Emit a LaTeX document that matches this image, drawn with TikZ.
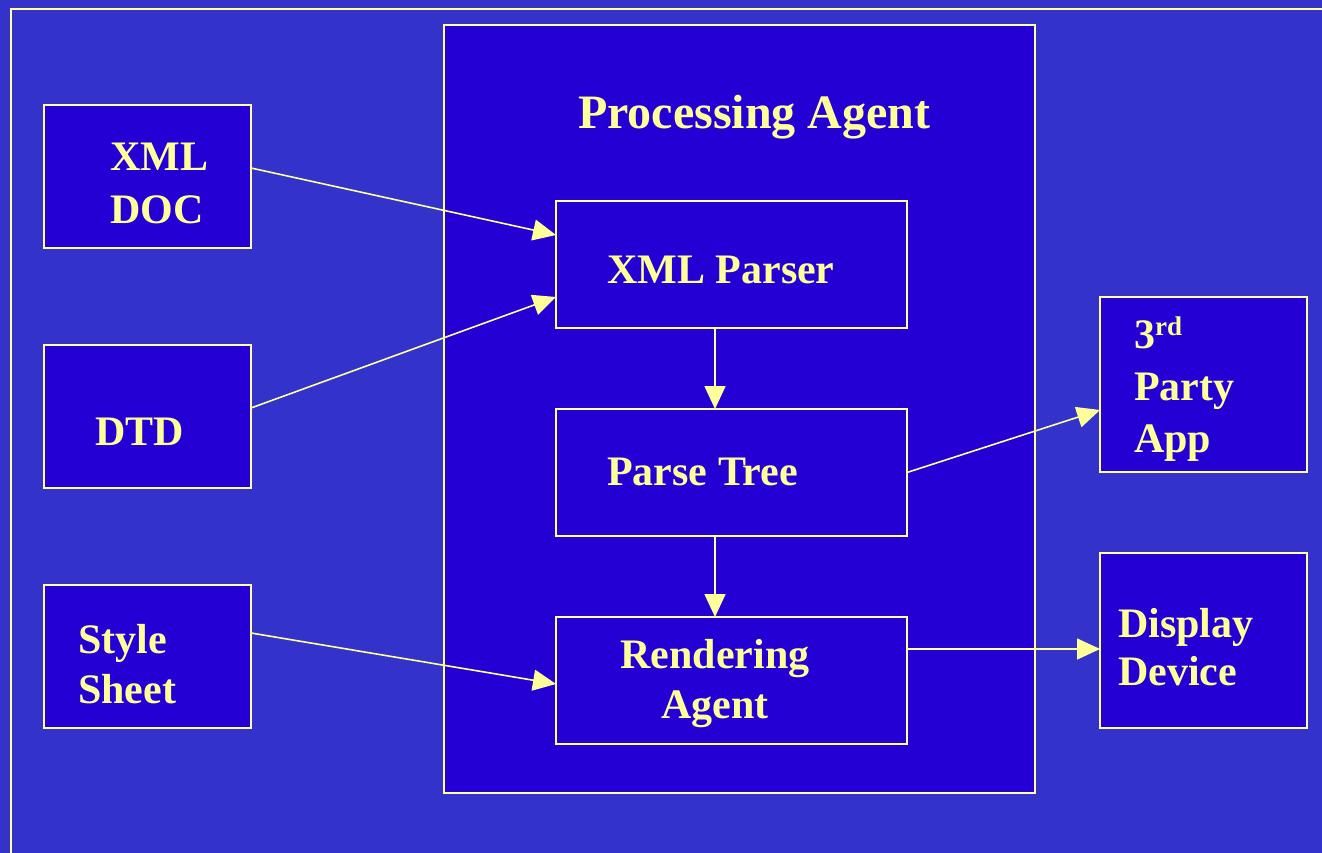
\documentclass[tikz,border=0pt]{standalone}
\usepackage{fontspec}
\setmainfont{Liberation Serif}
\usetikzlibrary{arrows.meta}
\definecolor{bgblue}{RGB}{51,51,204}
\definecolor{boxblue}{RGB}{36,0,212}
\definecolor{paleyellow}{RGB}{255,255,153}
\tikzset{
  box/.style={draw=paleyellow, fill=boxblue, line width=1.6pt, inner sep=0pt, outer sep=0pt},
  txt/.style={text=paleyellow, inner sep=0pt, anchor=base west, font=\bfseries\fontsize{42}{42}\selectfont},
  txtc/.style={txt, anchor=base},
  conn/.style={draw=paleyellow, line width=1.6pt, -{Triangle[length=23pt,width=21pt]}},
}
\begin{document}
\begin{tikzpicture}[x=1pt,y=-1pt]
\useasboundingbox[fill=bgblue] (0,0) rectangle (1322,853);
% outer frame
\draw[paleyellow, line width=1.8pt] (1330,9) -- (11,9) -- (11,860);
% boxes
\node[box, minimum width=591pt, minimum height=768pt] (pa) at (739.5,409) {};
\node[box, minimum width=207pt, minimum height=143pt] (xmldoc) at (147.5,176.5) {};
\node[box, minimum width=207pt, minimum height=143pt] (dtd) at (147.5,416.5) {};
\node[box, minimum width=207pt, minimum height=143pt] (style) at (147.5,656.5) {};
\node[box, minimum width=351pt, minimum height=127pt] (parser) at (731.5,264.5) {};
\node[box, minimum width=351pt, minimum height=127pt] (tree) at (731.5,472.5) {};
\node[box, minimum width=351pt, minimum height=127pt] (render) at (731.5,680.5) {};
\node[box, minimum width=207pt, minimum height=175pt] (third) at (1203.5,384.5) {};
\node[box, minimum width=207pt, minimum height=175pt] (display) at (1203.5,640.5) {};
% texts
\node[txt, font=\bfseries\fontsize{48}{48}\selectfont] (tpa) at (578,129) {Processing Agent};
\node[txt] (txml1) at (110,171) {XML};
\node[txt] (txml2) at (110,223) {DOC};
\node[txt] (tdtd) at (95,445) {DTD};
\node[txt] (tstyle1) at (78,653) {Style};
\node[txt] (tstyle2) at (78,703) {Sheet};
\node[txt] (tparser) at (607,283) {XML Parser};
\node[txt] (ttree) at (607,485) {Parse Tree};
\node[txtc] (trender1) at (715,668) {Rendering};
\node[txtc] (trender2) at (715,718) {Agent};
\node[txt] (tthird1) at (1134,348) {3\raisebox{13pt}{\fontsize{27}{27}\selectfont rd}};
\node[txt] (tthird2) at (1134,400) {Party};
\node[txt] (tthird3) at (1134,452) {App};
\node[txt] (tdisp1) at (1118,637) {Display};
\node[txt] (tdisp2) at (1118,685) {Device};
% connectors
\draw[conn] ([yshift=8.5pt]xmldoc.east) -- ([yshift=29.5pt]parser.west);
\draw[conn] ([yshift=8.5pt]dtd.east) -- ([yshift=-32.5pt]parser.west);
\draw[conn] ([xshift=-16.5pt]parser.south) -- ([xshift=-16.5pt]tree.north);
\draw[conn] ([xshift=-16.5pt]tree.south) -- ([xshift=-16.5pt]render.north);
\draw[conn] ([yshift=23.5pt]style.east) -- ([yshift=-3.5pt]render.west);
\draw[conn] (tree.east) -- ([yshift=-25.5pt]third.west);
\draw[conn] ([yshift=31.5pt]render.east) -- ([yshift=-8.5pt]display.west);
\end{tikzpicture}
\end{document}
